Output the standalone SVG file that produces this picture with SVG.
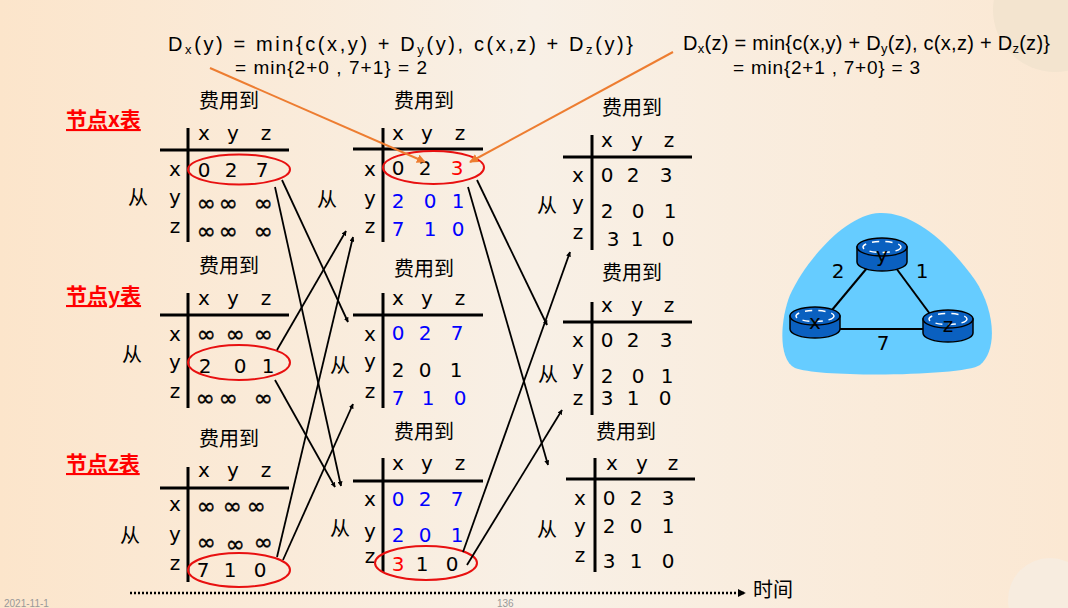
<svg xmlns="http://www.w3.org/2000/svg" width="1068" height="608" viewBox="0 0 1068 608">
<defs>
<linearGradient id="bg" x1="0" y1="0" x2="1" y2="0">
<stop offset="0" stop-color="#FCE5CB"/>
<stop offset="0.5" stop-color="#F8F0E6"/>
<stop offset="1" stop-color="#FBE8D3"/>
</linearGradient>
<marker id="ah" viewBox="0 0 10 10" refX="9" refY="5" markerWidth="5" markerHeight="5" orient="auto" markerUnits="userSpaceOnUse">
<path d="M0,0 L10,5 L0,10 Z" fill="#000"/>
</marker>
<marker id="ao" viewBox="0 0 10 10" refX="9" refY="5" markerWidth="9" markerHeight="9" orient="auto" markerUnits="userSpaceOnUse">
<path d="M0,0 L10,5 L0,10 Z" fill="#ED7D31"/>
</marker>
<marker id="at" viewBox="0 0 10 10" refX="9" refY="5" markerWidth="8" markerHeight="8" orient="auto" markerUnits="userSpaceOnUse">
<path d="M0,0 L10,5 L0,10 Z" fill="#000"/>
</marker>
<style>
.t{font-family:"DejaVu Sans",Verdana,sans-serif;font-size:20px;text-anchor:middle;fill:#000}
.inf{font-family:"DejaVu Sans",sans-serif;font-size:23px;text-anchor:middle;fill:#000;stroke:#000;stroke-width:0.4}
.cn{font-family:"Noto Sans CJK SC",sans-serif;font-size:20px;text-anchor:middle;fill:#000}
.sec{font-family:"Noto Sans CJK SC",sans-serif;font-size:21px;font-weight:bold;fill:#FF0000;text-decoration:underline}
.b{fill:#0000FF}
.r{fill:#FF0000}
.ln{stroke:#000;stroke-width:3;fill:none}
.el{fill:none;stroke:#E81010;stroke-width:2}
.ar{stroke:#000;stroke-width:1.8;fill:none;marker-end:url(#ah)}
.or{stroke:#ED7D31;stroke-width:2;fill:none;marker-end:url(#ao)}
.f{font-family:"Liberation Sans",Arial,sans-serif;fill:#000}
.rt{fill:#0A60C0;stroke:#000;stroke-width:1.5}
.rd{fill:none;stroke:#fff;stroke-width:1.5;stroke-dasharray:7,6}
.el2{stroke:#000;stroke-width:2}
.ft{font-family:"Liberation Sans",sans-serif;font-size:10px;fill:#999}
</style>
</defs>
<rect width="1068" height="608" fill="url(#bg)"/>
<circle cx="1055" cy="10" r="62" fill="#F3E4CF"/>
<circle cx="1050" cy="600" r="42" fill="#F7ECDF"/>

<g id="formula-left">
<text class="f" x="168" y="51" font-size="20" textLength="465" lengthAdjust="spacing">D<tspan font-size="13" dy="3">x</tspan><tspan dy="-3">(y) = min{c(x,y) + D</tspan><tspan font-size="13" dy="3">y</tspan><tspan dy="-3">(y), c(x,z) + D</tspan><tspan font-size="13" dy="3">z</tspan><tspan dy="-3">(y)}</tspan></text>
<text class="f" x="235" y="74" font-size="19" textLength="192" lengthAdjust="spacing">= min{2+0 , 7+1} = 2</text>
</g>
<g id="formula-right">
<text class="f" x="683" y="50" font-size="20" textLength="367" lengthAdjust="spacing">D<tspan font-size="13" dy="3">x</tspan><tspan dy="-3">(z) = min{c(x,y) + D</tspan><tspan font-size="13" dy="3">y</tspan><tspan dy="-3">(z), c(x,z) + D</tspan><tspan font-size="13" dy="3">z</tspan><tspan dy="-3">(z)}</tspan></text>
<text class="f" x="733" y="74" font-size="19" textLength="187" lengthAdjust="spacing">= min{2+1 , 7+0} = 3</text>
</g>

<g id="labels">
<text class="sec" x="66" y="127">节点x表</text>
<text class="sec" x="66" y="303">节点y表</text>
<text class="sec" x="66" y="471">节点z表</text>
</g>

<g id="table-L1">
<text class="cn" x="229" y="108">费用到</text>
<line class="ln" x1="160" y1="150" x2="289" y2="150"/><line class="ln" x1="188" y1="128" x2="188" y2="242"/>
<text class="t" x="204" y="140">x</text><text class="t" x="233" y="140">y</text><text class="t" x="266" y="140">z</text>
<text class="t" x="175" y="176">x</text><text class="t" x="175" y="204">y</text><text class="t" x="175" y="233">z</text>
<text class="cn" x="138" y="205">从</text>
<text class="t" x="204" y="177">0</text><text class="t" x="231" y="177">2</text><text class="t" x="262" y="177">7</text>
<text class="inf" x="206" y="211">∞</text><text class="inf" x="228" y="211">∞</text><text class="inf" x="263" y="211">∞</text>
<text class="inf" x="206" y="239">∞</text><text class="inf" x="228" y="239">∞</text><text class="inf" x="263" y="239">∞</text>
<ellipse class="el" cx="239" cy="169.5" rx="51" ry="15"/>
</g>

<g id="table-L2">
<text class="cn" x="229" y="273">费用到</text>
<line class="ln" x1="160" y1="315" x2="289" y2="315"/><line class="ln" x1="188" y1="293" x2="188" y2="408"/>
<text class="t" x="204" y="305">x</text><text class="t" x="233" y="305">y</text><text class="t" x="266" y="305">z</text>
<text class="t" x="175" y="341">x</text><text class="t" x="175" y="369">y</text><text class="t" x="175" y="398">z</text>
<text class="cn" x="132" y="362">从</text>
<text class="inf" x="206" y="342">∞</text><text class="inf" x="235" y="342">∞</text><text class="inf" x="263" y="342">∞</text>
<text class="t" x="205" y="373">2</text><text class="t" x="240" y="373">0</text><text class="t" x="268" y="373">1</text>
<text class="inf" x="205" y="406">∞</text><text class="inf" x="228" y="406">∞</text><text class="inf" x="263" y="406">∞</text>
<ellipse class="el" cx="239" cy="362.5" rx="51" ry="17.5"/>
</g>

<g id="table-L3">
<text class="cn" x="229" y="446">费用到</text>
<line class="ln" x1="160" y1="488" x2="289" y2="488"/><line class="ln" x1="188" y1="467" x2="188" y2="582"/>
<text class="t" x="204" y="477">x</text><text class="t" x="233" y="477">y</text><text class="t" x="266" y="477">z</text>
<text class="t" x="175" y="511">x</text><text class="t" x="175" y="541">y</text><text class="t" x="175" y="570">z</text>
<text class="cn" x="130" y="543">从</text>
<text class="inf" x="206" y="514">∞</text><text class="inf" x="232" y="514">∞</text><text class="inf" x="256" y="514">∞</text>
<text class="inf" x="206" y="550">∞</text><text class="inf" x="235" y="552">∞</text><text class="inf" x="263" y="550">∞</text>
<text class="t" x="203" y="577">7</text><text class="t" x="230" y="577">1</text><text class="t" x="260" y="577">0</text>
<ellipse class="el" cx="239" cy="570" rx="51" ry="17"/>
</g>

<g id="table-M1">
<text class="cn" x="424" y="108">费用到</text>
<line class="ln" x1="353" y1="149" x2="483" y2="149"/><line class="ln" x1="383" y1="128" x2="383" y2="242"/>
<text class="t" x="398" y="140">x</text><text class="t" x="427" y="140">y</text><text class="t" x="460" y="140">z</text>
<text class="t" x="370" y="176">x</text><text class="t" x="370" y="205">y</text><text class="t" x="370" y="233">z</text>
<text class="cn" x="327" y="207">从</text>
<text class="t" x="398" y="175">0</text><text class="t" x="425" y="175">2</text><text class="t r" x="457" y="175">3</text>
<text class="t b" x="398" y="208">2</text><text class="t b" x="430" y="208">0</text><text class="t b" x="458" y="208">1</text>
<text class="t b" x="398" y="236">7</text><text class="t b" x="430" y="236">1</text><text class="t b" x="458" y="236">0</text>
<ellipse class="el" cx="433.5" cy="167.5" rx="50.5" ry="16.5"/>
</g>

<g id="table-M2">
<text class="cn" x="424" y="276">费用到</text>
<line class="ln" x1="353" y1="315" x2="483" y2="315"/><line class="ln" x1="383" y1="293" x2="383" y2="408"/>
<text class="t" x="398" y="305">x</text><text class="t" x="427" y="305">y</text><text class="t" x="460" y="305">z</text>
<text class="t" x="370" y="341">x</text><text class="t" x="370" y="368">y</text><text class="t" x="370" y="398">z</text>
<text class="cn" x="340" y="373">从</text>
<text class="t b" x="398" y="340">0</text><text class="t b" x="425" y="340">2</text><text class="t b" x="457" y="340">7</text>
<text class="t" x="398" y="377">2</text><text class="t" x="425" y="377">0</text><text class="t" x="456" y="377">1</text>
<text class="t b" x="398" y="405">7</text><text class="t b" x="428" y="405">1</text><text class="t b" x="460" y="405">0</text>
</g>

<g id="table-M3">
<text class="cn" x="424" y="439">费用到</text>
<line class="ln" x1="353" y1="481" x2="483" y2="481"/><line class="ln" x1="383" y1="458" x2="383" y2="572"/>
<text class="t" x="398" y="470">x</text><text class="t" x="427" y="470">y</text><text class="t" x="460" y="470">z</text>
<text class="t" x="370" y="506">x</text><text class="t" x="370" y="538">y</text><text class="t" x="370" y="563">z</text>
<text class="cn" x="340" y="536">从</text>
<text class="t b" x="398" y="506">0</text><text class="t b" x="425" y="506">2</text><text class="t b" x="457" y="506">7</text>
<text class="t b" x="398" y="542">2</text><text class="t b" x="425" y="542">0</text><text class="t b" x="457" y="542">1</text>
<text class="t r" x="398" y="571">3</text><text class="t" x="422" y="571">1</text><text class="t" x="452" y="571">0</text>
<ellipse class="el" cx="426" cy="563" rx="51" ry="17"/>
</g>

<g id="table-R1">
<text class="cn" x="632" y="115">费用到</text>
<line class="ln" x1="563" y1="157" x2="692" y2="157"/><line class="ln" x1="592" y1="135" x2="592" y2="250"/>
<text class="t" x="607" y="147">x</text><text class="t" x="637" y="147">y</text><text class="t" x="669" y="147">z</text>
<text class="t" x="578" y="182">x</text><text class="t" x="578" y="210">y</text><text class="t" x="578" y="239">z</text>
<text class="cn" x="547" y="213">从</text>
<text class="t" x="607" y="182">0</text><text class="t" x="633" y="182">2</text><text class="t" x="666" y="182">3</text>
<text class="t" x="607" y="218">2</text><text class="t" x="638" y="218">0</text><text class="t" x="670" y="218">1</text>
<text class="t" x="613" y="246">3</text><text class="t" x="637" y="246">1</text><text class="t" x="668" y="246">0</text>
</g>

<g id="table-R2">
<text class="cn" x="632" y="280">费用到</text>
<line class="ln" x1="563" y1="322" x2="692" y2="322"/><line class="ln" x1="592" y1="302" x2="592" y2="415"/>
<text class="t" x="607" y="312">x</text><text class="t" x="637" y="312">y</text><text class="t" x="669" y="312">z</text>
<text class="t" x="578" y="347">x</text><text class="t" x="578" y="375">y</text><text class="t" x="578" y="405">z</text>
<text class="cn" x="548" y="382">从</text>
<text class="t" x="607" y="347">0</text><text class="t" x="633" y="347">2</text><text class="t" x="666" y="347">3</text>
<text class="t" x="607" y="383">2</text><text class="t" x="638" y="383">0</text><text class="t" x="667" y="383">1</text>
<text class="t" x="607" y="405">3</text><text class="t" x="633" y="405">1</text><text class="t" x="665" y="405">0</text>
</g>

<g id="table-R3">
<text class="cn" x="626" y="439">费用到</text>
<line class="ln" x1="566" y1="479" x2="695" y2="479"/><line class="ln" x1="595" y1="458" x2="595" y2="572"/>
<text class="t" x="612" y="470">x</text><text class="t" x="642" y="470">y</text><text class="t" x="673" y="470">z</text>
<text class="t" x="580" y="505">x</text><text class="t" x="580" y="533">y</text><text class="t" x="580" y="562">z</text>
<text class="cn" x="547" y="537">从</text>
<text class="t" x="609" y="505">0</text><text class="t" x="636" y="505">2</text><text class="t" x="668" y="505">3</text>
<text class="t" x="609" y="533">2</text><text class="t" x="636" y="533">0</text><text class="t" x="668" y="533">1</text>
<text class="t" x="609" y="568">3</text><text class="t" x="636" y="568">1</text><text class="t" x="668" y="568">0</text>
</g>

<g id="network">
<path d="M880,213 C915,212 950,245 975,280 C995,310 998,350 980,365 C965,376 820,378 795,368 C778,360 780,320 790,295 C805,262 845,214 880,213 Z" fill="#66CCFF"/>
<line class="el2" x1="867" y1="268" x2="832" y2="310"/>
<line class="el2" x1="896" y1="268" x2="930" y2="314"/>
<line class="el2" x1="840" y1="329" x2="923" y2="329"/>
<text class="t" x="838" y="278">2</text><text class="t" x="922" y="278">1</text><text class="t" x="883" y="350">7</text>
<g id="router-y">
<path class="rt" d="M857,247 L857,262 A25,9 0 0 0 907,262 L907,247 Z"/>
<ellipse class="rt" cx="882" cy="247" rx="25" ry="9"/>
<ellipse class="rd" cx="882" cy="247" rx="19" ry="5.5"/>
<text class="t" x="882" y="262" font-size="25">y</text>
</g>
<g id="router-x">
<path class="rt" d="M790,316 L790,329 A25,9 0 0 0 840,329 L840,316 Z"/>
<ellipse class="rt" cx="815" cy="316" rx="25" ry="9"/>
<ellipse class="rd" cx="815" cy="316" rx="19" ry="5.5"/>
<text class="t" x="815" y="329" font-size="25">x</text>
</g>
<g id="router-z">
<path class="rt" d="M923,319 L923,333 A25,9 0 0 0 973,333 L973,319 Z"/>
<ellipse class="rt" cx="948" cy="319" rx="25" ry="9"/>
<ellipse class="rd" cx="948" cy="319" rx="19" ry="5.5"/>
<text class="t" x="948" y="332" font-size="25">z</text>
</g>
</g>

<g id="connectors">
<line class="or" x1="210" y1="68" x2="425" y2="162"/>
<line class="or" x1="673" y1="52" x2="470" y2="162"/>
<line class="ar" x1="282" y1="180" x2="348" y2="322"/>
<line class="ar" x1="275" y1="187" x2="341" y2="486"/>
<line class="ar" x1="277" y1="350" x2="346" y2="231"/>
<line class="ar" x1="275" y1="380" x2="335" y2="487"/>
<line class="ar" x1="277" y1="557" x2="353" y2="237"/>
<line class="ar" x1="283" y1="560" x2="353" y2="404"/>
<line class="ar" x1="477" y1="180" x2="547" y2="325"/>
<line class="ar" x1="468" y1="187" x2="548" y2="465"/>
<line class="ar" x1="463" y1="552" x2="570" y2="252"/>
<line class="ar" x1="467" y1="565" x2="562" y2="410"/>
<line x1="130" y1="593" x2="745" y2="593" stroke="#000" stroke-width="2.5" stroke-dasharray="2,2" marker-end="url(#at)"/>
</g>
<text class="cn" x="773" y="597">时间</text>
<text class="ft" x="4" y="607">2021-11-1</text>
<text class="ft" x="497" y="607">136</text>
</svg>
